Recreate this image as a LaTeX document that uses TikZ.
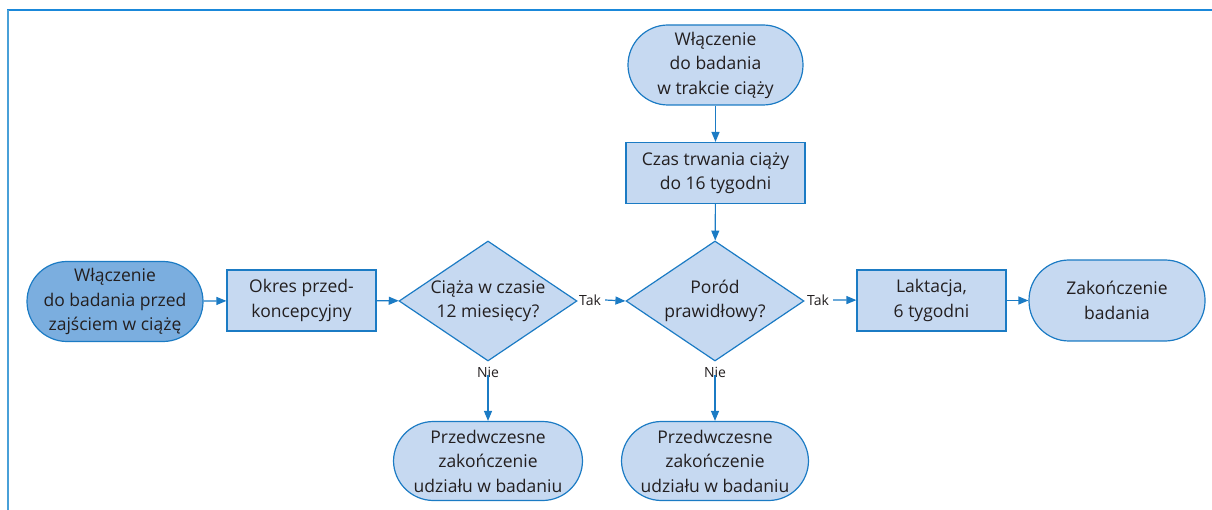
\documentclass[tikz,border=0pt]{standalone}
\usepackage{fontspec}
\setmainfont{Open Sans}
\usetikzlibrary{shapes.geometric,arrows.meta}
\definecolor{bline}{HTML}{1B7BC4}
\definecolor{lfill}{HTML}{C6D9F1}
\definecolor{dfill}{HTML}{7BAEDF}
\definecolor{ftop}{HTML}{1A88DA}
\definecolor{fleft}{HTML}{48A0D8}
\definecolor{txt}{HTML}{231F20}
\tikzset{
  base/.style={draw=bline, line width=1.2pt, fill=lfill, text=txt, align=center, inner sep=0pt,
    font=\fontsize{17.5}{24.5}\selectfont},
  stadium/.style={base, rounded corners=40pt, minimum height=80pt},
  boxnode/.style={base, minimum height=61pt},
  dia/.style={base, diamond, minimum width=178pt, minimum height=120pt},
  diatext/.style={text=txt, align=center, font=\fontsize{17.5}{24.5}\selectfont},
  lab/.style={text=txt, inner sep=0pt, font=\fontsize{14}{16}\selectfont},
  arr/.style={draw=bline, line width=1.2pt, -{Triangle[length=10pt,width=8pt]}},
}
\begin{document}
\begin{tikzpicture}[x=1pt,y=-1pt]
\useasboundingbox (0,0) rectangle (1212,510);
\draw[ftop, line width=2pt] (7,10) -- (1212,10);
\draw[fleft, line width=2pt] (8,10) -- (8,510);

\node[stadium, fill=dfill, minimum width=176pt] (start) at (115,301.5) {Włączenie\\do badania przed\\zajściem w ciążę};
\node[boxnode, minimum width=149pt] (okres) at (301.5,300.5) {Okres przed-\\koncepcyjny};
\node[dia] (d1) at (488,301) {};
\node[diatext] at (d1) {Ciąża w czasie\\12 miesięcy?};
\node[lab, anchor=west] (tak1) at (579,300) {Tak};
\node[dia] (d2) at (715,301) {};
\node[diatext] at (d2) {Poród\\prawidłowy?};
\node[lab, anchor=west] (tak2) at (807,300) {Tak};
\node[boxnode, minimum width=149pt] (lakt) at (931.5,300.5) {Laktacja,\\6 tygodni};
\node[stadium, minimum width=176pt, minimum height=81pt] (end) at (1117,300.5) {Zakończenie\\badania};

\node[stadium, minimum width=175pt] (top) at (715.5,65) {Włączenie\\do badania\\w trakcie ciąży};
\node[boxnode, minimum width=179pt] (czas) at (715.5,173) {Czas trwania ciąży\\do 16 tygodni};

\node[lab, anchor=north] (nie1) at (488,367) {Nie};
\node[lab, anchor=north] (nie2) at (715,367) {Nie};
\node[stadium, minimum width=189pt, minimum height=79pt] (p1) at (488,461) {Przedwczesne\\zakończenie\\udziału w badaniu};
\node[stadium, minimum width=187pt, minimum height=79pt] (p2) at (715,461) {Przedwczesne\\zakończenie\\udziału w badaniu};

\draw[arr] (start) -- (okres);
\draw[arr] (okres) -- (d1);
\draw[arr] ([xshift=4pt]tak1.east) -- (d2.west);
\draw[arr] ([xshift=4pt]tak2.east) -- (lakt);
\draw[arr] (lakt) -- (end);
\draw[arr] (top) -- (czas);
\draw[arr] (czas) -- (d2);
\draw[arr] ([yshift=3pt]nie1.south) -- (p1);
\draw[arr] ([yshift=3pt]nie2.south) -- (p2);
\end{tikzpicture}
\end{document}
